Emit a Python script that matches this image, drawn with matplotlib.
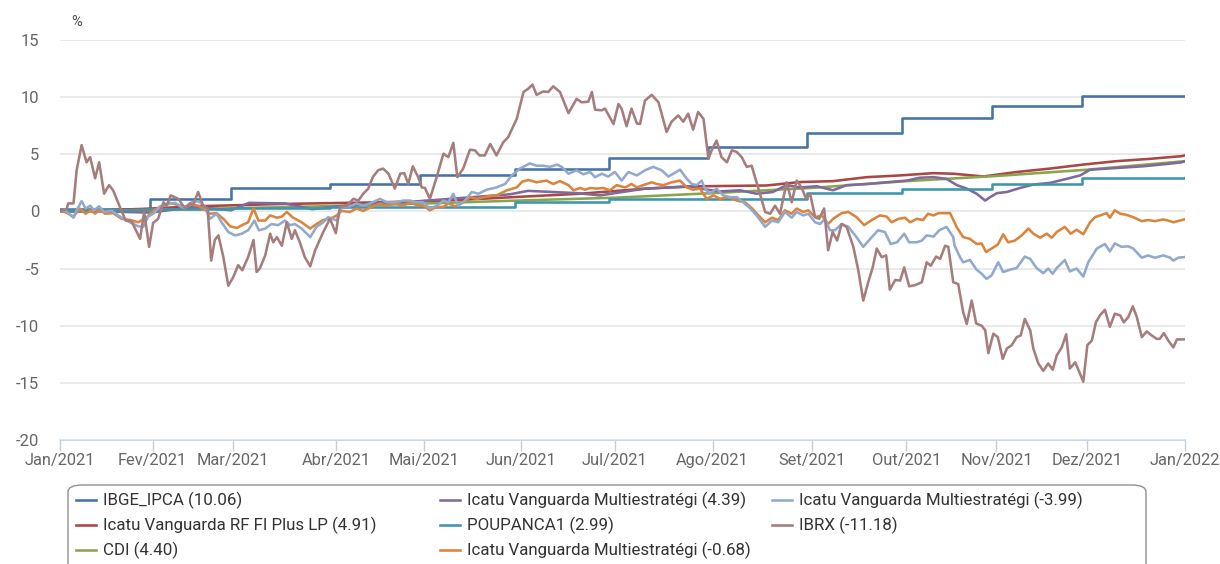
import matplotlib
matplotlib.use("Agg")
import matplotlib.pyplot as plt
from matplotlib.lines import Line2D
from matplotlib.patches import FancyBboxPatch

# ---------------- data (x = trading-day index across 2021) ----------------
month_labels = ["Jan/2021", "Fev/2021", "Mar/2021", "Abr/2021", "Mai/2021", "Jun/2021",
                "Jul/2021", "Ago/2021", "Set/2021", "Out/2021", "Nov/2021", "Dez/2021", "Jan/2022"]
month_days = [0, 20.6, 38.5, 61.4, 80.9, 102.4, 123.3, 145.0, 167.1, 188.1, 208.1, 228.2, 250]

ipca_days = [0, 20, 38, 60, 80, 101, 122, 144, 166, 187, 207, 227, 250]
ipca_vals = [0.25, 1.05, 2.04, 2.36, 3.2, 3.73, 4.69, 5.6, 6.86, 8.17, 9.19, 10.06, 10.06]

poup_days = [0, 2, 20, 38, 60, 101, 122, 166, 187, 207, 227, 250]
poup_vals = [0.0, 0.1, 0.2, 0.3, 0.4, 0.81, 1.1, 1.6, 1.98, 2.42, 2.95, 2.99]

cdi_days = [0, 20.6, 38.5, 61.4, 80.9, 102.4, 123.3, 145.0, 167.1, 188.1, 208.1, 228.2, 250]
cdi_vals = [0.0, 0.15, 0.28, 0.48, 0.69, 0.96, 1.2, 1.6, 2.06, 2.65, 3.1, 3.65, 4.40]

rf_days = [0, 10, 20, 30, 40, 48.9, 71.1, 85.9, 100.7, 115.6, 130.4, 141.5, 157.0, 164.4,
           171.8, 179.3, 186.7, 194.1, 198.5, 205.2, 212.6, 220.0, 227.4, 234.8, 242.2, 249.3, 250]
rf_vals = [0.0, 0.1, 0.25, 0.45, 0.55, 0.65, 0.8, 0.95, 1.25, 1.55, 2.0, 2.2, 2.27, 2.57,
           2.65, 3.0, 3.15, 3.35, 3.3, 3.06, 3.45, 3.75, 4.1, 4.4, 4.6, 4.84, 4.91]

multi_days = [0, 10, 20, 30, 38, 42, 50, 56, 62, 70, 80, 90, 100, 104, 115, 120, 130, 140,
              142.2, 146.7, 151.1, 154.8, 158.4, 161.5, 164.4, 168.2, 171.8, 174.8, 179.3,
              183.7, 188.2, 191.1, 194.1, 197.0, 199.3, 201.5, 203.7, 205.6, 206.7, 208.2,
              210.4, 213.3, 216.3, 220.0, 223.7, 226.7, 228.9, 234.8, 240.7, 245.9, 249.3, 250]
multi_vals = [0.0, 0.0, -0.1, 0.4, 0.1, 0.75, 0.7, 0.2, 0.45, 0.7, 0.9, 1.2, 1.5, 1.8, 1.6,
              1.4, 2.0, 2.2, 2.0, 1.75, 1.85, 1.55, 1.7, 2.3, 2.1, 2.2, 1.85, 2.3, 2.4, 2.55,
              2.7, 2.95, 3.0, 2.85, 2.3, 2.0, 1.55, 0.95, 1.25, 1.6, 1.7, 2.05, 2.35, 2.5,
              2.85, 3.15, 3.65, 3.8, 3.95, 4.15, 4.3, 4.39]

orange_days = [0, 1.1, 3.0, 4.4, 5.7, 6.9, 7.8, 8.9, 10.0, 11.8, 13.7, 15.6, 17.4, 19.3, 20.7,
               22.6, 24.4, 25.9, 27.8, 29.3, 30.7, 32.2, 33.3, 34.8, 36.3, 37.8, 39.3, 40.7,
               41.8, 43.0, 44.1, 45.6, 46.7, 48.2, 49.3, 50.4, 51.8, 53.7, 55.6, 57.0, 58.5,
               60.0, 61.5, 62.6, 64.4, 65.9, 67.4, 69.3, 71.1, 72.6, 74.4, 76.3, 77.8, 79.6,
               80.7, 82.2, 83.7, 85.2, 86.3, 87.8, 89.6, 91.1, 92.6, 94.8, 97.0, 99.3, 101.5,
               102.7, 104.1, 105.9, 108.1, 109.6, 111.1, 113.0, 114.1, 115.6, 116.7, 117.8,
               119.3, 120.7, 122.2, 123.7, 125.6, 127.0, 128.2, 129.6, 131.5, 132.6, 134.1,
               135.9, 137.8, 139.3, 140.7, 142.2, 143.7, 145.2, 146.7, 148.5, 150.4, 152.2,
               153.7, 155.2, 156.7, 158.2, 159.6, 161.1, 162.6, 163.7, 165.2, 166.3, 167.8,
               169.3, 170.7, 171.8, 173.7, 175.2, 177.0, 178.7, 180.4, 182.2, 183.7, 184.8,
               186.3, 187.8, 188.9, 190.4, 191.8, 192.9, 194.1, 195.2, 196.7, 197.8, 199.3,
               200.7, 202.2, 203.7, 204.8, 205.8, 207.0, 208.4, 209.6, 210.7, 212.2, 213.7,
               215.2, 216.3, 217.8, 219.3, 220.4, 221.5, 223.3, 224.6, 225.9, 227.4, 228.9,
               230.0, 231.5, 232.6, 233.3, 234.4, 235.6, 237.0, 238.5, 240.4, 241.8, 243.3,
               245.2, 246.7, 247.4, 250]
orange_vals = [0, -0.05, -0.45, 0.25, -0.2, 0.1, -0.2, 0.15, -0.2, -0.15, -0.65, -0.75, -0.95,
               -0.5, 0.05, 0.5, 0.75, 0.6, 0.4, 0.6, 0.5, 0.15, -0.2, -0.15, -0.65, -1.3, -1.45,
               -1.15, -0.95, 0.25, -0.8, -0.8, -0.35, -0.55, -0.45, -0.05, -0.55, -0.95, -1.5,
               -1.1, -0.75, -0.65, -0.35, 0.05, -0.05, 0.25, 0.05, 0.4, 0.7, 0.5, 0.7, 0.5, 0.8,
               0.5, 0.5, 0.1, 0.4, 0.4, 0.7, 0.45, 0.8, 1.25, 1.1, 1.3, 1.4, 1.85, 2.1, 2.6, 2.75,
               2.55, 2.7, 2.4, 2.65, 2.3, 1.85, 2.05, 1.9, 2.05, 2.0, 2.05, 1.85, 2.3, 2.1, 2.4,
               2.1, 2.3, 2.55, 2.4, 2.3, 2.55, 2.7, 2.1, 1.9, 2.0, 1.1, 1.4, 1.1, 1.25, 0.95, 0.8,
               0.3, -0.35, -0.95, -0.55, -0.75, 0.1, -0.2, 0.25, -0.05, 0.1, -0.5, -0.35, -1.1,
               -0.65, -0.15, -0.05, -0.5, -1.2, -0.75, -0.35, -0.45, -0.95, -0.65, -0.55, -0.95,
               -0.65, -0.75, -0.2, -0.35, -0.15, -0.15, -0.15, -1.4, -2.25, -2.4, -2.85, -2.8,
               -3.55, -3.25, -2.9, -2.0, -2.7, -2.55, -2.1, -1.5, -1.95, -2.3, -1.95, -2.3, -1.8,
               -1.35, -1.95, -1.6, -2.0, -0.95, -0.5, -0.3, -0.15, -0.55, 0.1, -0.2, -0.3, -0.5,
               -0.85, -0.75, -0.85, -0.7, -0.85, -0.95, -0.68]

lblue_days = [0, 1.1, 3.0, 3.7, 4.8, 5.7, 6.7, 7.6, 8.7, 9.8, 11.5, 13.7, 14.8, 16.3, 17.4,
              18.5, 19.6, 20.7, 22.2, 23.7, 25.6, 27.4, 29.3, 30.7, 32.2, 33.3, 34.8, 35.9,
              37.4, 38.9, 40.4, 41.8, 43.2, 44.2, 45.6, 47.0, 48.5, 50.0, 51.1, 52.2, 53.7,
              55.6, 57.0, 58.5, 59.6, 61.5, 62.6, 64.4, 65.9, 67.4, 68.9, 71.1, 72.6, 74.4,
              76.3, 77.8, 79.3, 80.7, 82.2, 83.7, 85.2, 86.3, 87.4, 88.5, 90.0, 91.5, 93.0,
              94.8, 97.0, 98.9, 100.4, 102.2, 104.4, 105.9, 107.4, 108.9, 110.4, 111.5, 113.0,
              114.8, 116.3, 117.8, 118.9, 120.4, 121.8, 123.3, 124.8, 126.3, 128.2, 130.0,
              131.8, 133.7, 135.2, 137.8, 139.3, 140.4, 141.5, 142.6, 143.3, 144.4, 145.9,
              147.4, 148.9, 150.4, 151.8, 153.3, 154.8, 156.7, 158.2, 159.6, 161.1, 162.6,
              163.7, 165.2, 166.3, 167.8, 168.9, 170.0, 171.1, 172.2, 173.7, 175.2, 177.0,
              178.5, 180.4, 181.8, 183.3, 184.6, 186.0, 187.6, 188.7, 190.4, 191.5, 192.6,
              194.1, 195.4, 197.0, 198.5, 198.8, 200.0, 200.7, 202.2, 203.7, 204.8, 205.9,
              207.0, 208.5, 209.6, 211.1, 212.6, 214.4, 215.6, 217.0, 218.5, 219.6, 220.6,
              221.5, 223.3, 224.4, 225.9, 227.4, 228.5, 230.4, 232.2, 233.3, 234.4, 235.9,
              237.4, 238.5, 240.4, 241.8, 243.3, 245.2, 246.7, 247.4, 248.5, 250]
lblue_vals = [0.0, 0.1, -0.55, 0.1, 0.9, 0.25, 0.5, 0.1, 0.45, -0.05, 0.05, -0.55, -0.8, -1.1,
              -1.3, -1.35, -0.45, -0.2, 0.4, 0.6, 0.75, 0.3, 0.8, 0.9, 0.45, -0.65, -0.2, -0.95,
              -1.8, -2.1, -1.95, -1.65, -0.8, -1.65, -1.5, -1.1, -1.2, -0.8, -1.2, -1.1, -1.5,
              -2.25, -1.35, -0.95, -0.5, -0.8, 0.4, 0.45, 0.7, 0.5, 0.7, 1.1, 0.8, 0.8, 0.95,
              0.95, 0.8, 0.8, 0.25, 0.5, 0.95, 0.8, 1.55, 0.5, 0.95, 1.7, 1.55, 1.9, 2.1, 2.4,
              3.15, 3.75, 4.2, 4.0, 4.0, 3.9, 4.1, 3.9, 3.3, 3.6, 3.25, 3.45, 3.0, 3.3, 3.05,
              3.45, 2.7, 3.45, 3.15, 3.6, 3.9, 3.6, 3.05, 3.65, 2.85, 2.4, 2.3, 2.7, 2.0, 1.55,
              2.0, 1.4, 1.25, 1.25, 0.8, 0.3, -0.35, -1.35, -0.8, -0.95, -0.05, -0.55, -0.05,
              -0.35, -0.2, -0.95, -1.1, -0.65, -1.65, -1.65, -1.1, -1.35, -2.25, -3.1, -2.25,
              -1.65, -1.8, -2.85, -2.7, -1.95, -2.7, -2.7, -2.55, -2.1, -2.2, -1.65, -1.35, -2.25,
              -3.0, -4.0, -4.45, -4.25, -5.1, -5.45, -5.9, -5.6, -4.45, -5.3, -5.1, -4.95, -3.95,
              -4.15, -4.95, -5.4, -5.0, -5.45, -4.95, -4.25, -5.25, -5.0, -5.7, -4.45, -3.25,
              -2.85, -3.5, -2.8, -3.1, -3.05, -3.25, -4.05, -3.85, -4.05, -3.85, -4.05, -4.3,
              -4.05, -3.99]

ibrx_days = [0, 1.5, 1.8, 3.0, 3.7, 4.8, 5.9, 6.7, 7.8, 8.7, 9.8, 10.9, 11.8, 13.3, 14.6,
             15.9, 17.8, 18.7, 19.8, 20.7, 21.8, 23.0, 23.7, 24.6, 26.3, 27.8, 28.9, 29.6,
             30.7, 31.8, 32.8, 33.6, 34.4, 35.2, 36.3, 37.4, 38.5, 39.6, 40.5, 41.8, 43.0,
             43.7, 44.4, 45.6, 46.7, 47.4, 48.2, 49.3, 50.4, 51.5, 52.2, 53.3, 54.4, 55.6,
             56.7, 58.5, 60.0, 61.3, 62.2, 63.7, 65.2, 66.3, 67.4, 68.5, 69.5, 70.7, 71.8,
             73.0, 74.4, 75.6, 76.5, 77.4, 78.4, 79.6, 80.4, 81.1, 82.2, 83.7, 85.2, 86.3,
             87.4, 88.3, 89.6, 91.1, 92.2, 93.2, 94.4, 95.6, 97.0, 98.5, 99.6, 101.5, 103.0,
             104.1, 105.0, 105.9, 107.4, 108.5, 109.6, 111.1, 113.0, 114.8, 115.9, 117.4,
             118.2, 118.9, 120.4, 121.1, 123.0, 124.1, 124.8, 125.9, 127.0, 128.2, 128.9,
             130.0, 131.5, 133.0, 134.8, 135.9, 137.4, 138.5, 139.6, 140.7, 141.8, 143.0,
             144.1, 144.8, 145.9, 147.0, 148.2, 149.3, 150.4, 151.5, 152.6, 153.7, 155.2,
             156.7, 157.8, 158.9, 160.0, 161.5, 162.6, 163.7, 164.8, 165.8, 166.7, 167.8,
             168.7, 169.8, 170.7, 171.7, 172.7, 173.7, 174.8, 176.3, 177.4, 178.5, 179.6,
             180.6, 181.5, 182.6, 183.6, 184.4, 185.6, 186.7, 187.6, 188.7, 190.0, 191.5,
             192.6, 193.5, 194.7, 195.6, 196.7, 197.4, 198.5, 199.6, 200.7, 201.5, 202.6,
             203.6, 204.8, 205.6, 206.3, 207.4, 208.4, 209.5, 210.4, 211.5, 212.6, 213.5,
             214.4, 215.6, 216.3, 217.4, 218.5, 219.6, 220.6, 221.5, 222.6, 223.6, 224.4,
             225.6, 226.3, 227.4, 228.3, 229.3, 230.2, 231.1, 232.2, 233.3, 234.4, 235.6,
             236.4, 237.4, 238.4, 239.3, 240.4, 241.5, 242.6, 243.7, 244.4, 245.3, 246.3,
             247.4, 248.2, 249.3, 250]
ibrx_vals = [0.0, 0.2, 0.7, 0.7, 3.6, 5.8, 4.3, 4.75, 2.9, 4.3, 1.55, 2.3, 1.85, 0.4, -0.8,
             -0.85, -2.4, -0.05, -3.1, -1.0, -0.65, 0.8, 0.5, 1.4, 1.1, 0.25, 0.7, 0.6, 1.7,
             0.5, 0.25, -4.3, -2.5, -2.1, -4.0, -6.5, -5.75, -4.7, -5.15, -4.0, -2.5, -5.3,
             -5.0, -3.85, -1.95, -2.7, -2.25, -3.0, -0.95, -2.4, -1.65, -2.7, -4.0, -4.8, -3.4,
             -1.8, -0.65, -1.9, 0.4, 0.5, 1.1, 0.95, 1.55, 2.0, 3.0, 3.6, 3.75, 3.3, 2.0, 3.3,
             3.35, 2.4, 3.95, 3.0, 2.1, 2.05, 1.1, 3.0, 5.05, 4.75, 6.0, 3.0, 3.75, 5.4, 5.35,
             4.9, 4.9, 5.9, 4.9, 6.05, 6.5, 8.1, 10.45, 10.75, 11.1, 10.2, 10.5, 10.45, 10.95,
             10.45, 8.6, 9.85, 9.55, 9.6, 10.45, 8.9, 8.85, 9.0, 7.65, 9.4, 9.0, 7.45, 9.0,
             7.7, 7.65, 9.7, 10.2, 9.55, 6.95, 7.85, 8.4, 7.85, 8.55, 7.15, 8.7, 8.1, 4.6,
             5.35, 6.2, 4.75, 4.3, 5.35, 5.2, 4.75, 3.9, 4.0, 2.0, -0.05, -0.2, 0.5, -0.2, 2.55,
             0.8, 2.7, 2.1, 1.1, 1.55, -0.5, -0.65, 0.25, -3.4, -1.8, -2.55, -1.1, -1.35, -3.1,
             -5.15, -7.8, -6.2, -4.9, -3.25, -4.0, -3.85, -6.85, -6.0, -6.05, -4.9, -6.55,
             -6.45, -6.2, -4.45, -4.75, -3.95, -4.15, -3.0, -3.1, -6.2, -6.35, -8.8, -9.85,
             -7.8, -9.8, -10.0, -10.4, -12.4, -10.7, -11.0, -12.9, -12.0, -11.7, -11.0, -10.85,
             -9.4, -10.4, -12.0, -13.3, -13.95, -13.3, -13.85, -12.6, -11.9, -10.75, -13.75,
             -13.2, -13.85, -14.9, -11.7, -11.3, -9.7, -9.1, -8.6, -10.1, -8.95, -9.1, -9.7,
             -9.25, -8.3, -9.25, -11.0, -10.5, -10.85, -11.15, -11.15, -10.65, -11.3, -11.9,
             -11.2, -11.2, -11.18]

names = ["IBGE_IPCA (10.06)", "Icatu Vanguarda RF FI Plus LP (4.91)", "CDI (4.40)",
         "Icatu Vanguarda Multiestratégi (4.39)", "POUPANCA1 (2.99)",
         "Icatu Vanguarda Multiestratégi (-0.68)", "Icatu Vanguarda Multiestratégi (-3.99)",
         "IBRX (-11.18)"]
colors = ["#4572A7", "#AA4643", "#89A54E", "#80699B", "#3D96AE", "#DB843D", "#92A8CD", "#A47D7C"]

# ---------------- figure ----------------
plt.rcParams['font.family'] = ['Roboto', 'DejaVu Sans']
plt.rcParams['axes.unicode_minus'] = False
W, H = 1220, 564
fig = plt.figure(figsize=(W / 100, H / 100), dpi=100)
ax = fig.add_axes([60 / W, 1 - 440 / H, 1125 / W, 400 / H])

lw = 1.85
kw = dict(lw=lw, solid_joinstyle='round', solid_capstyle='round')
series = [
    (ipca_days, ipca_vals, 'steps-post'),
    (rf_days, rf_vals, 'default'),
    (cdi_days, cdi_vals, 'default'),
    (multi_days, multi_vals, 'default'),
    (poup_days, poup_vals, 'steps-post'),
    (orange_days, orange_vals, 'default'),
    (lblue_days, lblue_vals, 'default'),
    (ibrx_days, ibrx_vals, 'default'),
]
for (xd, yd, ds), c in zip(series, colors):
    ax.plot(xd, yd, color=c, drawstyle=ds, zorder=3, **kw)

ax.set_xlim(0, 250)
ax.set_ylim(-20, 15)
ax.set_yticks(range(-20, 16, 5))
ax.set_xticks(month_days)
ax.set_xticklabels(month_labels)
ax.grid(axis='y', color='#E6E6E6', lw=1.2, zorder=0)
for s in ['top', 'right', 'left']:
    ax.spines[s].set_visible(False)
ax.spines['bottom'].set_color('#C0D0E0')
ax.spines['bottom'].set_linewidth(1.2)
ax.spines['bottom'].set_zorder(1)
ax.tick_params(axis='y', length=0, pad=15, labelsize=12, labelcolor='#666666')
ax.tick_params(axis='x', length=8, width=1, color='#C0D0E0', pad=1, labelsize=11.8,
               labelcolor='#666666')
fig.text(77 / W, 1 - 22 / H, "%", fontsize=10.5, color='#4D4D4D', ha='center', va='center')

# ---------------- legend (Highcharts style, 3 columns, row-major) ----------------
fig.patches.append(FancyBboxPatch((68 / W, -0.05), 1078 / W, (564 - 485) / H + 0.05,
                                  boxstyle="round,pad=0,rounding_size=0.012",
                                  transform=fig.transFigure, facecolor='white',
                                  edgecolor='#909090', lw=1.0, zorder=1))
col_x = [76, 440, 772]
row_y = [500, 525, 550]
order = [0, 3, 6, 1, 4, 7, 2, 5]   # row-major placement of the series
for slot, idx in enumerate(order):
    r, c = divmod(slot, 3)
    x0, y0 = col_x[c], row_y[r]
    fig.add_artist(Line2D([x0 / W, (x0 + 20) / W], [1 - y0 / H, 1 - y0 / H],
                          transform=fig.transFigure, color=colors[idx], lw=lw, zorder=2))
    fig.text((x0 + 27) / W, 1 - y0 / H, names[idx], fontsize=12.2, color='#333333',
             ha='left', va='center', zorder=2)

fig.savefig("out.png", dpi=100)
